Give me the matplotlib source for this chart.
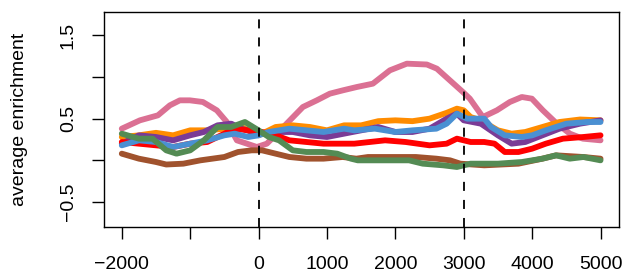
import matplotlib.pyplot as plt

plt.rcParams['font.family'] = ['Liberation Sans', 'DejaVu Sans']

# series (position, average enrichment)
pink_x = [-2000, -1735, -1472, -1297, -1151, -1005, -814, -610, -464, -317, -171, -25, 121, 268, 458,
          648, 852, 1042, 1233, 1437, 1671, 1920, 2168, 2460, 2607, 2797, 2987, 3089, 3279, 3484,
          3674, 3849, 3996, 4157, 4362, 4552, 4742, 5000]
pink_y = [0.38, 0.48, 0.54, 0.66, 0.72, 0.72, 0.70, 0.60, 0.46, 0.24, 0.20, 0.16, 0.20, 0.32, 0.48,
          0.64, 0.72, 0.80, 0.84, 0.88, 0.92, 1.08, 1.16, 1.15, 1.10, 0.96, 0.82, 0.74, 0.52, 0.60,
          0.70, 0.76, 0.74, 0.60, 0.44, 0.32, 0.26, 0.24]

orange_x = [-2000, -1750, -1500, -1250, -1000, -750, -500, -250, 0, 250, 500, 750, 1000, 1250, 1500,
            1750, 2000, 2250, 2500, 2750, 2900, 3000, 3100, 3250, 3500, 3700, 3900, 4150, 4400, 4700, 5000]
orange_y = [0.28, 0.30, 0.33, 0.30, 0.36, 0.36, 0.38, 0.40, 0.30, 0.40, 0.42, 0.40, 0.36, 0.42, 0.42,
            0.47, 0.48, 0.47, 0.50, 0.57, 0.62, 0.60, 0.52, 0.48, 0.36, 0.32, 0.34, 0.40, 0.46, 0.49, 0.48]

purple_x = [-2000, -1750, -1500, -1250, -1000, -800, -600, -400, -250, 0, 250, 500, 750, 1000, 1250,
            1500, 1750, 2000, 2250, 2500, 2750, 2900, 3000, 3250, 3500, 3700, 3900, 4150, 4400, 4700, 5000]
purple_y = [0.20, 0.30, 0.28, 0.24, 0.30, 0.34, 0.42, 0.44, 0.38, 0.32, 0.34, 0.34, 0.30, 0.28, 0.32,
            0.36, 0.40, 0.34, 0.34, 0.38, 0.50, 0.56, 0.48, 0.44, 0.30, 0.20, 0.22, 0.30, 0.38, 0.44, 0.48]

red_x = [-2000, -1750, -1500, -1250, -1000, -750, -500, -350, -150, 50, 250, 450, 950, 1400, 1850,
         2150, 2500, 2750, 2900, 3100, 3300, 3450, 3600, 3800, 4000, 4200, 4450, 4750, 5000]
red_y = [0.22, 0.20, 0.18, 0.16, 0.20, 0.22, 0.32, 0.38, 0.36, 0.34, 0.30, 0.24, 0.20, 0.20, 0.24,
         0.22, 0.18, 0.20, 0.26, 0.22, 0.22, 0.20, 0.10, 0.10, 0.14, 0.20, 0.26, 0.28, 0.30]

blue_x = [-2000, -1750, -1500, -1250, -1000, -750, -500, -350, -150, 0, 150, 450, 700, 950, 1250,
          1400, 1700, 2000, 2250, 2600, 2750, 2900, 3050, 3300, 3400, 3600, 3850, 4000, 4200, 4500,
          4800, 5000]
blue_y = [0.18, 0.24, 0.22, 0.16, 0.20, 0.24, 0.30, 0.32, 0.28, 0.30, 0.34, 0.38, 0.36, 0.34, 0.38,
          0.36, 0.38, 0.34, 0.36, 0.38, 0.44, 0.56, 0.50, 0.50, 0.40, 0.30, 0.28, 0.30, 0.36, 0.44,
          0.46, 0.46]

brown_x = [-2000, -1750, -1500, -1350, -1100, -850, -500, -300, -100, 50, 250, 450, 700, 950, 1230,
           1430, 1600, 2300, 2600, 2800, 2950, 3300, 3800, 4150, 4350, 4750, 5000]
brown_y = [0.08, 0.02, -0.02, -0.05, -0.04, 0.00, 0.04, 0.10, 0.12, 0.12, 0.08, 0.04, 0.02, 0.02, 0.04,
           0.02, 0.04, 0.04, 0.02, 0.00, -0.04, -0.06, -0.04, 0.02, 0.06, 0.04, 0.02]

green_x = [-2000, -1750, -1550, -1350, -1200, -1000, -800, -600, -400, -200, 0, 150, 300, 500, 700,
           950, 1150, 1350, 1450, 1650, 2200, 2400, 2700, 2900, 3100, 3500, 3850, 4150, 4350, 4550,
           4750, 5000]
green_y = [0.32, 0.26, 0.26, 0.12, 0.08, 0.12, 0.24, 0.40, 0.40, 0.46, 0.36, 0.28, 0.24, 0.12, 0.10,
           0.10, 0.08, 0.02, 0.00, 0.00, 0.00, -0.04, -0.06, -0.08, -0.04, -0.04, -0.02, 0.02, 0.06, 0.02,
           0.04, 0.00]

x_ticks = [-2000, -1000, 0, 1000, 2000, 3000, 4000, 5000]
x_labels = ['\u22122000', '', '0', '1000', '2000', '3000', '4000', '5000']
y_ticks = [-0.5, 0.0, 0.5, 1.0, 1.5]
y_labels = ['\u22120.5', '', '0.5', '', '1.5']
marks = [0, 3000]

series = [
    (pink_x, pink_y, '#DB7093'),
    (orange_x, orange_y, '#FF8C00'),
    (purple_x, purple_y, '#7A3B96'),
    (red_x, red_y, '#FF0000'),
    (blue_x, blue_y, '#4A90D2'),
    (brown_x, brown_y, '#A0522D'),
    (green_x, green_y, '#548B54'),
]

fig = plt.figure(figsize=(6.26, 2.76), dpi=100)
ax = fig.add_axes([104 / 626, 49 / 276, 515 / 626, 215 / 276])

for xs, ys, col in series:
    ax.plot(xs, ys, color=col, lw=4.2, solid_capstyle='round', solid_joinstyle='round')

for m in marks:
    ax.axvline(m, color='black', lw=1.3, linestyle=(0, (5, 5)))

ax.set_xlim(-2260, 5270)
ax.set_ylim(-0.8, 1.78)
ax.set_xticks(x_ticks)
ax.set_xticklabels(x_labels)
ax.set_yticks(y_ticks)
ax.set_yticklabels(y_labels, rotation=90, va='center')
ax.tick_params(direction='out', length=8.5, width=1, labelsize=14)
ax.tick_params(axis='x', pad=12.5)
ax.tick_params(axis='y', pad=11)
ax.set_ylabel('average enrichment', fontsize=14, labelpad=23)
for sp in ax.spines.values():
    sp.set_linewidth(1)

fig.savefig('out.png', dpi=100)
